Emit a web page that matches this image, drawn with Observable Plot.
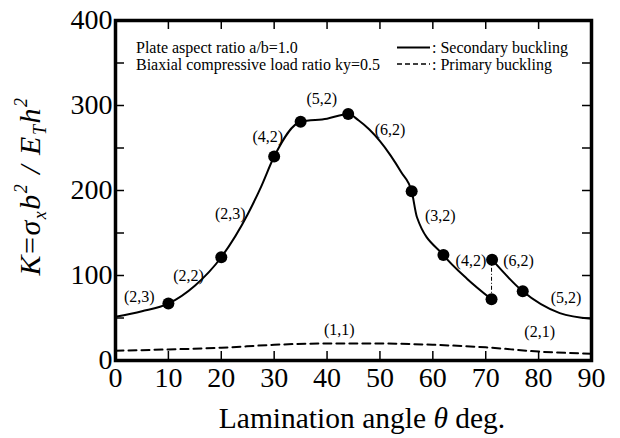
<!DOCTYPE html>
<html><head><meta charset="utf-8">
<script src="https://cdn.jsdelivr.net/npm/d3@7"></script>
<script src="https://cdn.jsdelivr.net/npm/@observablehq/plot@0.6"></script>
<style>body{margin:0;background:#fff}</style>
</head><body><div id="chart"></div>
<script>
// Tick values
const xTicks = [0, 10, 20, 30, 40, 50, 60, 70, 80, 90];
const yTicks = [0, 100, 200, 300, 400];
const yMinorTicks = [0, 50, 100, 150, 200, 250, 300, 350, 400];

// Secondary buckling, branch before the jump (θ deg, K)
const secATheta = [0, 5, 10, 15, 20, 25, 27.5, 30, 35, 40, 44, 46, 48, 50, 52, 54, 56, 57, 62, 66.5, 71.1];
const secAK     = [51.5, 58, 67, 88, 121.5, 172, 204, 240, 281, 284.5, 290, 282.3, 271.7, 258, 241.3, 221.7, 199, 168.5, 124, 96, 72];
// Secondary buckling, branch after the jump
const secBTheta = [71.2, 77, 84, 90];
const secBK     = [118.6, 81.4, 55.7, 49];
// Primary buckling
const priTheta = [0, 10, 20, 30, 40, 50, 60, 70, 80, 90];
const priK     = [11.5, 13, 15, 18.5, 20, 20, 18.5, 15.5, 10.5, 8];
// Mode-change points (filled circles)
const markTheta = [10, 20, 30, 35, 44, 56, 62, 71.1, 71.2, 77];
const markK     = [67, 121.5, 240, 281, 290, 199, 124, 72, 118.6, 81.4];
// Buckling mode labels
const modeLabels = ["(2,3)", "(2,2)", "(2,3)", "(4,2)", "(5,2)", "(6,2)", "(3,2)", "(4,2)", "(6,2)", "(5,2)", "(2,1)", "(1,1)"];
const labelTheta = [4.5, 13.8, 21.7, 28.8, 39, 51.9, 61.4, 67.2, 76.2, 85.2, 80.2, 42.3];
const labelK     = [75, 100, 173, 263.6, 307.6, 271, 169.8, 116.8, 116.8, 73.7, 34, 35.6];
// Legend / annotation text
const noteLines = ["Plate aspect ratio a/b=1.0", "Biaxial compressive load ratio ky=0.5"];
const legendLines = [": Secondary buckling", ": Primary buckling"];

const secA = secATheta.map((t, i) => ({t, k: secAK[i]}));
const secB = secBTheta.map((t, i) => ({t, k: secBK[i]}));
const pri = priTheta.map((t, i) => ({t, k: priK[i]}));
const marks = markTheta.map((t, i) => ({t, k: markK[i]}));
const labels = modeLabels.map((s, i) => ({s, t: labelTheta[i], k: labelK[i]}));
const jump = [{t: secATheta[secATheta.length - 1], k1: secAK[secAK.length - 1], k2: secBK[0]}];

const W = 620, H = 438, mL = 115, mR = 29, mT = 20, mB = 78;
const pw = W - mL - mR, ph = H - mT - mB;
const tick = 9;
const font = "'Liberation Serif', 'Times New Roman', Times, serif";

const plot = Plot.plot({
  width: W, height: H,
  marginLeft: mL, marginRight: mR, marginTop: mT, marginBottom: mB,
  style: {fontFamily: font, color: "#000", background: "#fff"},
  x: {domain: [0, 90]},
  y: {domain: [0, 400]},
  marks: [
    // inward ticks on all four sides
    Plot.tickX(xTicks, {x: d => d, insetTop: ph - tick, stroke: "#000", strokeWidth: 1.5}),
    Plot.tickX(xTicks, {x: d => d, insetBottom: ph - tick, stroke: "#000", strokeWidth: 1.5}),
    Plot.tickY(yMinorTicks, {y: d => d, insetRight: pw - tick, stroke: "#000", strokeWidth: 1.5}),
    Plot.tickY(yMinorTicks, {y: d => d, insetLeft: pw - tick, stroke: "#000", strokeWidth: 1.5}),
    Plot.axisX(xTicks, {tickSize: 0, tickPadding: 7, fontSize: 28, label: null}),
    Plot.axisY(yTicks, {tickSize: 0, tickPadding: 3, fontSize: 28, label: null}),
    Plot.line(pri, {x: "t", y: "k", curve: "monotone-x", stroke: "#000", strokeWidth: 2, strokeDasharray: "8,5"}),
    Plot.line(secA, {x: "t", y: "k", curve: "monotone-x", stroke: "#000", strokeWidth: 2}),
    Plot.line(secB, {x: "t", y: "k", curve: "monotone-x", stroke: "#000", strokeWidth: 2}),
    Plot.ruleX(jump, {x: "t", y1: "k1", y2: "k2", stroke: "#000", strokeWidth: 1, strokeDasharray: "4,2,1,2"}),
    Plot.dot(marks, {x: "t", y: "k", r: 6, fill: "#000"}),
    Plot.text(labels, {x: "t", y: "k", text: "s", fontSize: 16, fill: "#000"}),
    Plot.frame({stroke: "#000", strokeWidth: 3.5})
  ]
});

const svg = d3.select(plot);

// Annotation notes and legend
const ann = svg.append("g").attr("font-family", font).attr("font-size", 16).attr("fill", "#000").attr("text-anchor", "start");
const base1 = 53, base2 = 70;
ann.append("text").attr("x", 136).attr("y", base1).text(noteLines[0]);
ann.append("text").attr("x", 136).attr("y", base2).text(noteLines[1]);
ann.append("text").attr("x", 432).attr("y", base1).text(legendLines[0]);
ann.append("text").attr("x", 432).attr("y", base2).text(legendLines[1]);
ann.append("line").attr("x1", 397).attr("x2", 430).attr("y1", 47.5).attr("y2", 47.5).attr("stroke", "#000").attr("stroke-width", 2);
ann.append("line").attr("x1", 397).attr("x2", 430).attr("y1", 64).attr("y2", 64).attr("stroke", "#000").attr("stroke-width", 1.6).attr("stroke-dasharray", "5,3");

// X axis title
const xt = svg.append("text").attr("x", 362).attr("y", 428).attr("text-anchor", "middle")
  .attr("font-family", font).attr("font-size", 29.5).attr("fill", "#000");
xt.append("tspan").text("Lamination angle ");
xt.append("tspan").attr("font-style", "italic").text("θ");
xt.append("tspan").text(" deg.");

// Y axis title
const yt = svg.append("text").attr("transform", "translate(40,186) rotate(-90)").attr("text-anchor", "middle")
  .attr("font-family", font).attr("font-size", 30).attr("font-style", "italic").attr("fill", "#000")
  .attr("letter-spacing", 1.5);
yt.append("tspan").text("K");
yt.append("tspan").attr("font-style", "normal").text("=");
yt.append("tspan").text("σ");
yt.append("tspan").attr("font-size", 18).attr("dy", 6).text("x");
yt.append("tspan").attr("dy", -6).text("b");
yt.append("tspan").attr("font-size", 18).attr("dy", -13).text("2");
yt.append("tspan").attr("dy", 13).text(" / ");
yt.append("tspan").text("E");
yt.append("tspan").attr("font-size", 18).attr("dy", 6).text("T");
yt.append("tspan").attr("dy", -6).text("h");
yt.append("tspan").attr("font-size", 18).attr("dy", -13).text("2");

document.getElementById("chart").appendChild(plot);
</script>
</body></html>
